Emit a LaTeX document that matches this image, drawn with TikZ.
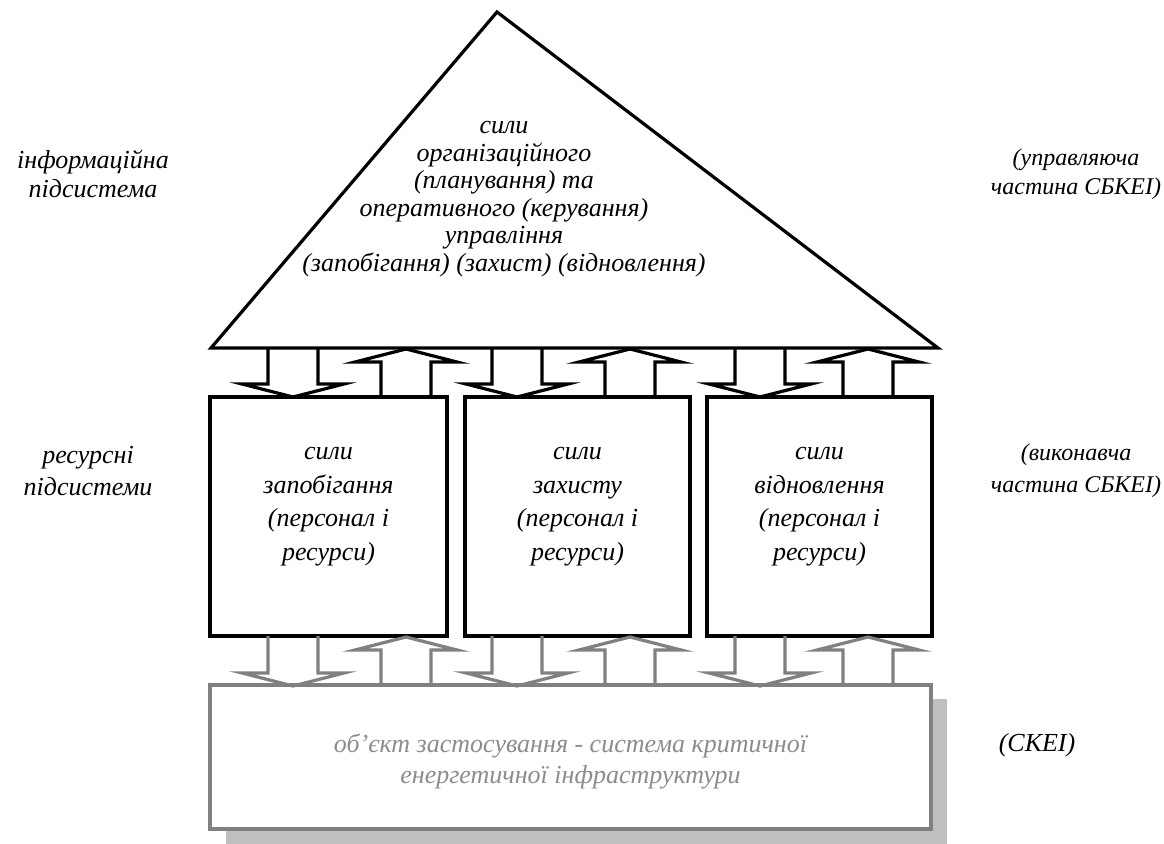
\documentclass[tikz,border=0pt]{standalone}
\usepackage{fontspec}
\setmainfont{Liberation Serif}
\usepackage{tikz}
\usetikzlibrary{positioning}

\definecolor{linegray}{HTML}{808080}
\definecolor{shadowgray}{HTML}{BFBFBF}
\definecolor{textgray}{HTML}{8C8C8C}

% block arrow between two levels (x, from y, to y)
\newcommand{\blkdown}[4][]{%
  \draw[blockarrow,#1] (#2-25,#3) -- (#2-25,#4-13) -- (#2-51,#4-13) -- (#2,#4)
    -- (#2+51,#4-13) -- (#2+25,#4-13) -- (#2+25,#3);}
\newcommand{\blkup}[4][]{%
  \draw[blockarrow,#1] (#2-25,#3) -- (#2-25,#4+13) -- (#2-51,#4+13) -- (#2,#4)
    -- (#2+51,#4+13) -- (#2+25,#4+13) -- (#2+25,#3);}

\begin{document}
\begin{tikzpicture}[x=1pt, y=-1pt,
    txt/.style={font=\fontsize{26pt}{27.5pt}\selectfont\itshape, align=center, inner sep=0pt},
    boxtxt/.style={txt, font=\fontsize{26pt}{33.5pt}\selectfont\itshape},
    box/.style={draw, line width=3.2pt, minimum height=239pt, inner sep=0pt},
    blockarrow/.style={line width=3.2pt, line join=miter},
    lowarrow/.style={draw=linegray}]
   \useasboundingbox (0,0) rectangle (1164,843);

   % informacijna pidsystema
   \coordinate (apex) at (497,12);
   \coordinate (bl) at (211,348);
   \coordinate (br) at (938,348);
   \draw[line width=3.2pt, line join=miter] (apex) -- (br) -- (bl) -- cycle;
   \node[txt] (top) at (504,199) {сили\\організаційного\\(планування) та\\оперативного (керування)\\управління\\(запобігання) (захист) (відновлення)};

   % resursni pidsystemy
   \node[box, minimum width=237pt] (b1) at (328.5,516.5) {};
   \node[box, minimum width=225pt] (b2) at (577.5,516.5) {};
   \node[box, minimum width=225pt] (b3) at (819.5,516.5) {};
   \node[boxtxt] (t1) at ([yshift=10pt]b1.center) {сили\\запобігання\\(персонал і\\ресурси)};
   \node[boxtxt] (t2) at ([yshift=10pt]b2.center) {сили\\захисту\\(персонал і\\ресурси)};
   \node[boxtxt] (t3) at ([yshift=10pt]b3.center) {сили\\відновлення\\(персонал і\\ресурси)};

   % obiekt zastosuvannia
   \fill[shadowgray] (226,699) rectangle (947,860);
   \node[draw=linegray, fill=white, line width=3.2pt, minimum width=721pt, minimum height=144pt,
         inner sep=0pt] (obj) at (570.5,757) {};
   \node[txt, text=textgray, font=\fontsize{26pt}{31pt}\selectfont\itshape] (ot) at ([yshift=-4pt]obj.center) {об’єкт застосування - система критичної\\енергетичної інфраструктури};

   % block arrows
   \foreach \d/\u in {293/406, 517/630, 760/868} {
     \blkdown{\d}{348}{397}
     \blkup{\u}{397}{349}
     \blkdown[lowarrow]{\d}{636}{686}
     \blkup[lowarrow]{\u}{686}{637}
   }

   % side labels
   \node[txt, font=\fontsize{26pt}{29pt}\selectfont\itshape] (li) at (93,174) {інформаційна\\підсистема};
   \node[txt, font=\fontsize{26pt}{32pt}\selectfont\itshape] (lr) at (88,471) {ресурсні\\підсистеми};
   \node[txt, font=\fontsize{24pt}{29pt}\selectfont\itshape] (ru) at (1076,174) {(управляюча\\частина СБКЕІ)};
   \node[txt, font=\fontsize{24pt}{32pt}\selectfont\itshape] (rv) at (1076,471) {(виконавча\\частина СБКЕІ)};
   \node[txt] (rs) at (1037,745) {(СКЕІ)};
\end{tikzpicture}
\end{document}
